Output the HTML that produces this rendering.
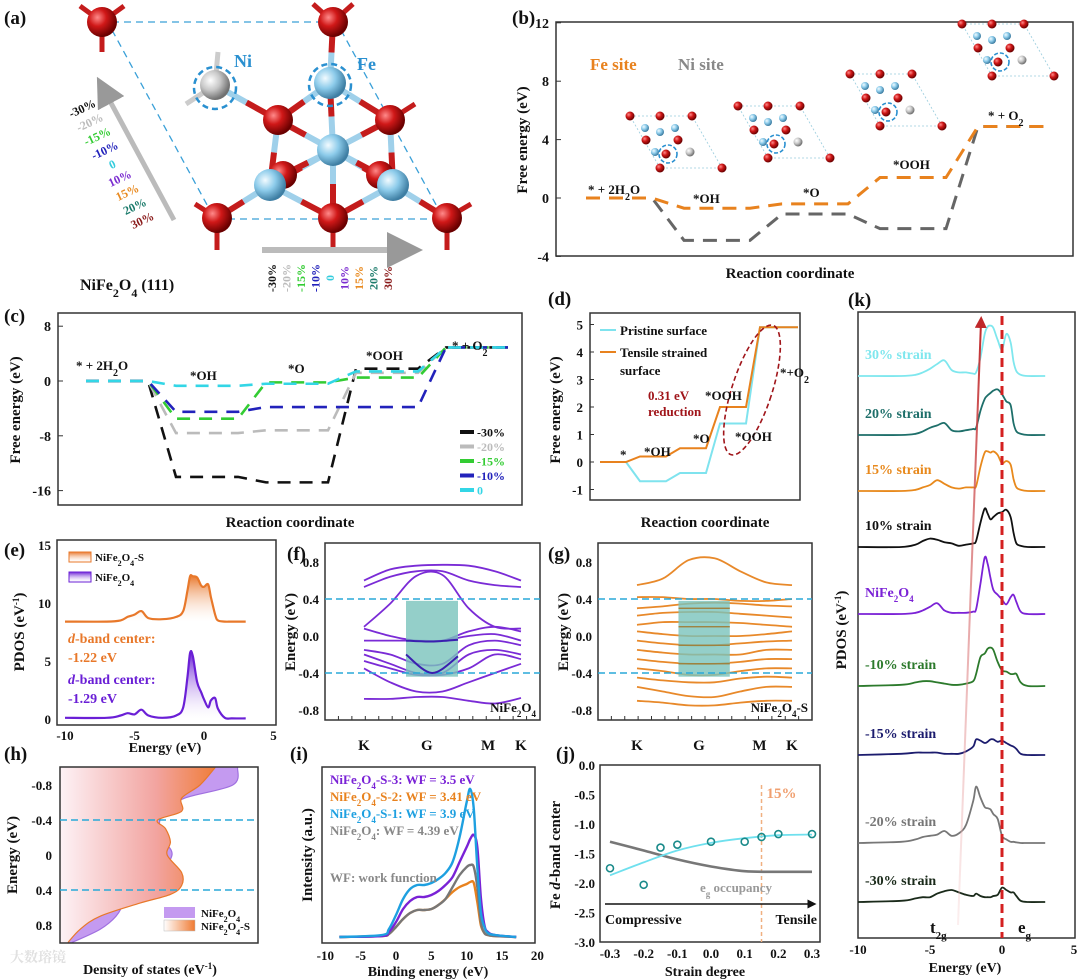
<!DOCTYPE html>
<html><head><meta charset="utf-8"><style>
html,body{margin:0;padding:0;background:#fff}
svg{display:block}
text{font-family:"Liberation Serif","Noto Serif CJK SC",serif;font-weight:bold}
</style></head><body>
<svg id="fig" width="1080" height="980" viewBox="0 0 1080 980" xmlns="http://www.w3.org/2000/svg">
<defs>
<radialGradient id="gRed" cx="35%" cy="35%" r="65%"><stop offset="0" stop-color="#ff8a8a"/><stop offset="0.45" stop-color="#d01818"/><stop offset="1" stop-color="#6a0000"/></radialGradient>
<radialGradient id="gBlue" cx="35%" cy="35%" r="65%"><stop offset="0" stop-color="#f2fbff"/><stop offset="0.5" stop-color="#8ccbea"/><stop offset="1" stop-color="#3e7ea3"/></radialGradient>
<radialGradient id="gGrey" cx="35%" cy="35%" r="65%"><stop offset="0" stop-color="#ffffff"/><stop offset="0.5" stop-color="#c8c8c8"/><stop offset="1" stop-color="#707070"/></radialGradient>
<linearGradient id="gOrV" x1="0" y1="0" x2="0" y2="1"><stop offset="0" stop-color="#e8762a"/><stop offset="1" stop-color="#fff" stop-opacity="0.2"/></linearGradient>
<linearGradient id="gPuV" x1="0" y1="0" x2="0" y2="1"><stop offset="0" stop-color="#6a1fd6"/><stop offset="1" stop-color="#fff" stop-opacity="0.2"/></linearGradient>
<linearGradient id="gOrH" gradientUnits="userSpaceOnUse" x1="60" y1="0" x2="220" y2="0"><stop offset="0" stop-color="#fdf2f6"/><stop offset="0.6" stop-color="#f2a4a0"/><stop offset="1" stop-color="#f07a32"/></linearGradient>
<linearGradient id="gOrL" x1="0" y1="0" x2="1" y2="0"><stop offset="0" stop-color="#fff"/><stop offset="1" stop-color="#f07a32"/></linearGradient>
<linearGradient id="gArrow" x1="0" y1="1" x2="0" y2="0"><stop offset="0" stop-color="#f4c9c9" stop-opacity="0.3"/><stop offset="1" stop-color="#c0282a"/></linearGradient>
<marker id="mGrey" markerWidth="6" markerHeight="6" refX="3" refY="3" orient="auto"><path d="M0,0 L6,3 L0,6 z" fill="#999"/></marker>
<marker id="mBlack" markerWidth="6" markerHeight="6" refX="3" refY="3" orient="auto"><path d="M0,0 L6,3 L0,6 z" fill="#111"/></marker>
<marker id="mRed" markerWidth="6" markerHeight="6" refX="3" refY="3" orient="auto"><path d="M0,0 L6,3 L0,6 z" fill="#c0282a"/></marker>
</defs>
<g id="root"></g>
</svg>
<script>
// ---------------- DATA ----------------
// (b)
const bLevelsFe = [0, -0.7, -0.4, 1.4, 4.9];
const bLevelsNi = [0, -2.9, -1.1, -2.1, 4.9];
const bTicks = [12, 8, 4, 0, -4];
// (c)
const cSeriesNames = ['-30%', '-20%', '-15%', '-10%', '0'];
const cS30 = [0, -14, -14.8, 1.8, 4.9];
const cS20 = [0, -7.6, -7.2, 1.2, 4.9];
const cS15 = [0, -5.5, -0.2, 0.5, 4.9];
const cS10 = [0, -4.5, -3.8, -3.8, 4.9];
const cS0 = [0, -0.7, -0.4, 1.4, 4.9];
const cTicks = [8, 0, -8, -16];
// (d)
const dPristine = [0, -0.7, -0.4, 1.4, 4.9];
const dTensile = [0, 0.2, 0.5, 2.0, 4.9];
const dTicks = [5, 4, 3, 2, 1, 0, -1];
// (e)
const eEnergy = [-10, -7, -6, -5.5, -5, -4.5, -4, -3, -2, -1.5, -1.2, -1, -0.8, -0.5, -0.2, 0, 0.3, 0.5, 0.8, 1, 1.5, 2, 3];
const eStrained = [8.4, 8.4, 8.5, 8.8, 9.0, 9.3, 8.7, 8.6, 8.8, 9.3, 11, 12.3, 12.3, 12.2, 11.5, 11.4, 11.6, 10.5, 9.0, 8.5, 8.4, 8.4, 8.4];
const ePristine = [0.1, 0.1, 0.3, 0.5, 0.4, 0.8, 0.3, 0.1, 0.3, 1, 3.5, 5.7, 5.4, 3.2, 2.3, 1.7, 1.0, 1.6, 1.8, 0.9, 0.1, 0.05, 0.05];
const eTicksY = [15, 10, 5, 0];
const eTicksX = [-10, -5, 0, 5];
// (f) band energies at 7 k samples
const fBands = [
 [0.6,0.72,0.76,0.77,0.76,0.7,0.6],[0.53,0.64,0.7,0.7,0.6,0.55,0.53],[0.1,0.35,0.65,0.66,0.3,0.1,0.08],
 [0.08,0.0,-0.05,-0.05,0.05,0.1,0.05],[-0.05,-0.05,-0.05,-0.05,0.0,0.02,-0.05],[-0.15,-0.2,-0.3,-0.3,-0.1,-0.05,-0.1],
 [-0.2,-0.3,-0.4,-0.4,-0.2,-0.15,-0.2],[-0.27,-0.35,-0.42,-0.42,-0.35,-0.2,-0.25],[-0.35,-0.5,-0.6,-0.6,-0.5,-0.4,-0.3],
 [-0.68,-0.68,-0.66,-0.66,-0.7,-0.73,-0.67]];
const gBands = [
 [0.55,0.62,0.82,0.84,0.7,0.58,0.55],[0.42,0.42,0.4,0.4,0.38,0.38,0.4],[0.3,0.32,0.35,0.36,0.35,0.33,0.32],
 [0.22,0.25,0.26,0.26,0.24,0.22,0.2],[0.12,0.15,0.15,0.15,0.14,0.12,0.1],[0.05,0.02,0.0,0.0,0.0,0.02,0.05],
 [-0.05,-0.08,-0.1,-0.1,-0.08,-0.06,-0.05],[-0.15,-0.18,-0.2,-0.2,-0.2,-0.15,-0.15],[-0.25,-0.28,-0.3,-0.3,-0.28,-0.25,-0.25],
 [-0.35,-0.38,-0.42,-0.42,-0.38,-0.35,-0.35],[-0.45,-0.48,-0.5,-0.5,-0.46,-0.44,-0.45],[-0.55,-0.6,-0.65,-0.66,-0.6,-0.55,-0.55],
 [-0.7,-0.72,-0.75,-0.75,-0.72,-0.7,-0.7]];
const bandTicks = [0.8, 0.4, 0.0, -0.4, -0.8];
const kLabels = ['K', 'G', 'M', 'K'];
// (h)
const hEnergy = [-1, -0.8, -0.65, -0.5, -0.4, -0.3, -0.15, 0, 0.2, 0.35, 0.45, 0.55, 0.7, 0.85, 1.0];
const hPristine = [11.1, 10.8, 7.8, 6.6, 6.25, 6.25, 6.6, 7.0, 6.25, 5.0, 3.6, 3.9, 3.5, 2.5, 0.75];
const hStrained = [9.7, 8.75, 7.6, 7.6, 6.1, 6.6, 6.9, 6.7, 7.6, 7.6, 6.9, 5.0, 2.5, 1.25, 0.5];
const hTicks = [-0.8, -0.4, 0, 0.4, 0.8];
// (i)
const iEnergy = [-8, -2, -1, 0, 1, 2, 3, 4, 5, 6, 7, 8, 9, 10, 10.5, 11, 11.5, 12, 12.5, 13, 14, 17];
const iS1 = [0, 2, 8, 22, 38, 48, 52, 52, 54, 58, 64, 75, 100, 135, 148, 128, 70, 25, 10, 4, 2, 0];
const iS3 = [0, 1, 5, 15, 28, 36, 40, 40, 42, 46, 52, 60, 75, 90, 98, 102, 90, 40, 12, 5, 2, 0];
const iS2 = [0, 1, 3, 10, 18, 24, 27, 27, 28, 32, 38, 45, 50, 53, 55, 54, 35, 12, 4, 2, 1, 0];
const iNi = [0, 1, 3, 10, 18, 24, 27, 27, 28, 32, 38, 50, 62, 70, 72, 70, 50, 15, 4, 2, 1, 0];
const iTicks = [-10, -5, 0, 5, 10, 15, 20];
// (j)
const jStrain = [-0.3, -0.2, -0.15, -0.1, 0, 0.1, 0.15, 0.2, 0.3];
const jCenter = [-1.75, -2.03, -1.4, -1.35, -1.3, -1.3, -1.22, -1.17, -1.17];
const jFitStrain = [-0.3, -0.2, -0.1, 0, 0.1, 0.2, 0.3];
const jFit = [-1.87, -1.65, -1.45, -1.32, -1.24, -1.19, -1.18];
const jEg = [-1.3, -1.45, -1.6, -1.72, -1.8, -1.81, -1.81];
const jTicksY = [0.0, -0.5, -1.0, -1.5, -2.0, -2.5, -3.0];
const jTicksX = [-0.3, -0.2, -0.1, 0.0, 0.1, 0.2, 0.3];
// (k)
const kEnergy = [-10,-7,-6,-5.5,-5,-4.5,-4,-3.5,-3,-2.5,-2,-1.8,-1.5,-1.2,-1,-0.8,-0.6,-0.3,0,0.3,0.6,0.8,1,1.3,1.8,3];
const kNames = ['30% strain','20% strain','15% strain','10% strain','NiFe2O4','-10% strain','-15% strain','-20% strain','-30% strain'];
const k30 = [0,0,0.1,0.3,0.6,1.0,1.3,0.5,0.3,0.3,0.2,0.3,1.5,3.5,4.1,4.2,4.0,3.0,2.2,3.5,2.8,1.2,0.4,0.1,0,0];
const k20 = [0,0,0.1,0.3,0.6,0.8,1.0,0.4,0.3,0.4,0.5,0.6,2.0,3.0,3.3,3.5,3.7,3.8,3.4,2.8,2.5,1.0,0.3,0.1,0,0];
const k15 = [0,0,0.1,0.3,0.5,0.9,0.6,0.3,0.2,0.3,0.3,0.4,2.0,3.2,3.3,3.2,3.3,3.0,2.3,2.5,2.2,1.0,0.3,0.1,0,0];
const k10 = [0,0,0.2,0.5,0.7,0.6,0.4,0.3,0.1,0.2,0.3,0.5,2.0,3.2,2.8,2.3,2.5,2.8,2.9,3.1,2.5,1.2,0.3,0.1,0,0];
const kNi = [0,0,0.1,0.3,0.6,0.9,0.3,0.1,0.1,0.1,0.2,0.4,2.5,4.7,4.2,3.0,2.0,1.6,1.2,0.8,1.4,1.6,1.0,0.2,0,0];
const km10 = [0,0.1,0.3,0.4,0.4,0.3,0.2,0.1,0.1,0.2,0.4,1.0,2.4,2.7,3.1,3.2,3.0,2.0,1.3,1.2,1.0,1.0,1.0,0.3,0,0];
const km15 = [0,0.1,0.2,0.2,0.2,0.2,0.1,0.1,0.1,0.3,0.7,1.3,1.2,1.0,1.1,1.3,1.3,1.1,1.2,1.0,0.8,0.7,0.5,0.1,0,0];
const km20 = [0,0.1,0.3,0.5,0.6,0.7,1.0,0.6,0.8,1.5,3.5,4.7,3.8,3.0,2.9,2.8,2.4,2.0,0.6,0.3,0.1,0.1,0.05,0,0,0];
const km30 = [0,0.1,0.3,0.4,0.4,0.7,0.9,1.0,0.8,0.6,0.5,0.7,0.5,0.4,0.4,0.4,0.5,0.6,1.2,1.0,0.8,0.8,0.5,0.1,0,0];
const kTicks = [-10, -5, 0, 5];

// ---------------- HELPERS ----------------
const NS = 'http://www.w3.org/2000/svg';
const root = document.getElementById('root');
function mk(parent, tag, attrs, text) {
  const e = document.createElementNS(NS, tag);
  for (const k in attrs) e.setAttribute(k, attrs[k]);
  if (text != null) e.textContent = text;
  parent.appendChild(e);
  return e;
}
function grp(name) {
  const g = mk(root, 'g', {});
  
  
  return g;
}
function smooth(pts) {
  let d = 'M' + pts[0][0].toFixed(1) + ',' + pts[0][1].toFixed(1);
  for (let i = 0; i < pts.length - 1; i++) {
    const p0 = pts[i - 1] || pts[i], p1 = pts[i], p2 = pts[i + 1], p3 = pts[i + 2] || p2;
    const c1x = p1[0] + (p2[0] - p0[0]) / 6, c1y = p1[1] + (p2[1] - p0[1]) / 6;
    const c2x = p2[0] - (p3[0] - p1[0]) / 6, c2y = p2[1] - (p3[1] - p1[1]) / 6;
    d += ' C' + c1x.toFixed(1) + ',' + c1y.toFixed(1) + ' ' + c2x.toFixed(1) + ',' + c2y.toFixed(1) + ' ' + p2[0].toFixed(1) + ',' + p2[1].toFixed(1);
  }
  return d;
}
function txt(parent, x, y, s, size, fill, anchor, name, extra) {
  const a = {x: x, y: y, 'font-size': size, fill: fill || '#111', 'text-anchor': anchor || 'start'};
  if (extra) for (const k in extra) a[k] = extra[k];
  const t = mk(parent, 'text', a);
  t.innerHTML = s;
  
  
  return t;
}
function frame(parent, x, y, w, h, name) {
  const r = mk(parent, 'rect', {x: x, y: y, width: w, height: h, fill: 'none', stroke: '#333', 'stroke-width': 1.5});
  
  
  return r;
}
function stepPath(levels, xf, w, yf) {
  let d = '';
  levels.forEach((v, i) => {
    const x0 = xf(i), y = yf(v);
    d += (i === 0 ? 'M' : ' L') + x0 + ',' + y + ' H' + (x0 + w);
  });
  return d;
}
function sphere(parent, x, y, r, kind) {
  const c = mk(parent, 'circle', {cx: x, cy: y, r: r, fill: kind === 'r' ? 'url(#gRed)' : kind === 'b' ? 'url(#gBlue)' : 'url(#gGrey)'});
  
  
  return c;
}

// ---------------- PANEL A ----------------
(function () {
  const g = grp('panel-a-structure');
  txt(g, 4, 24, '(a)', 19, '#111', 'start', 'panel-label-a');
  const cell = mk(g, 'path', {d: 'M112,22 H333 M112,30 L212,214 M216,219 H447 M341,30 L440,212', fill: 'none', stroke: '#3aa0d8', 'stroke-width': 1.3, 'stroke-dasharray': '7 5'});
  
  const stubs = [[102,22,80,6],[102,22,124,6],[102,22,102,52],[333,22,313,4],[333,22,353,4],[217,218,195,204],[217,218,217,250],[447,218,471,204],[447,218,447,250],[333,218,333,250],[390,120,415,104],[215,85,218,52],[215,85,186,104]];
  stubs.forEach(b => {
    const l = mk(g, 'line', {x1: b[0], y1: b[1], x2: b[2], y2: b[3], stroke: b[0] === 215 ? '#ccc' : '#c41c1c', 'stroke-width': 5});
    
  });
  const bonds = [[330,83,333,22],[330,83,278,120],[330,83,390,120],[215,85,278,120],[333,150,278,120],[333,150,390,120],[333,150,330,83],[333,150,270,185],[333,150,393,185],[333,150,333,218],[333,150,283,175],[333,150,380,175],[278,120,270,185],[390,120,393,185],[270,185,217,218],[270,185,333,218],[270,185,283,175],[393,185,333,218],[393,185,447,218],[393,185,380,175]];
  bonds.forEach(b => {
    const mx = (b[0] + b[2]) / 2, my = (b[1] + b[3]) / 2;
    const l1 = mk(g, 'line', {x1: b[0], y1: b[1], x2: mx, y2: my, stroke: '#9fd0ea', 'stroke-width': 6});
    
    const l2 = mk(g, 'line', {x1: mx, y1: my, x2: b[2], y2: b[3], stroke: '#c41c1c', 'stroke-width': 6});
    
  });
  [[283,175],[380,175]].forEach(p => sphere(g, p[0], p[1], 14, 'r'));
  [[102,22],[333,22],[278,120],[390,120],[217,218],[333,218],[447,218]].forEach(p => sphere(g, p[0], p[1], 15, 'r'));
  [[330,83],[333,150],[270,185],[393,185]].forEach(p => sphere(g, p[0], p[1], 16, 'b'));
  sphere(g, 215, 85, 15, 'g');
  const c1 = mk(g, 'circle', {cx: 215, cy: 88, r: 21, fill: 'none', stroke: '#2a90d0', 'stroke-width': 2.5, 'stroke-dasharray': '6 4'});
  
  const c2 = mk(g, 'circle', {cx: 330, cy: 85, r: 21, fill: 'none', stroke: '#2a90d0', 'stroke-width': 2.5, 'stroke-dasharray': '6 4'});
  
  txt(g, 234, 67, 'Ni', 18, '#2a90d0', 'start', 'ni-label');
  txt(g, 357, 70, 'Fe', 18, '#2a90d0', 'start', 'fe-label');
  const a1 = mk(g, 'line', {x1: 174, y1: 220, x2: 104, y2: 90, stroke: '#bbb', 'stroke-width': 5, 'marker-end': 'url(#mGrey)'});
  
  const a2 = mk(g, 'line', {x1: 262, y1: 250, x2: 405, y2: 250, stroke: '#bbb', 'stroke-width': 6, 'marker-end': 'url(#mGrey)'});
  
  const strains = ['-30%','-20%','-15%','-10%','0','10%','15%','20%','30%'];
  const scol = ['#111','#bbb','#3c3','#22b','#3cd','#7a2bd0','#e88a20','#1a7a6a','#8a1a1a'];
  strains.forEach((s, i) => {
    const lx = 84 + i * 7.5, ly = 112 + i * 14;
    txt(g, 0, 0, s, 12, scol[i], 'middle', 'strain-label-left', {transform: 'translate(' + lx + ',' + ly + ') rotate(-25)'});
    txt(g, 0, 0, s, 12, scol[i], 'middle', 'strain-label-bottom', {transform: 'translate(' + (276 + i * 14.5) + ',278) rotate(-90)'});
  });
  txt(g, 80, 290, 'NiFe<tspan baseline-shift="sub" font-size="12">2</tspan>O<tspan baseline-shift="sub" font-size="12">4</tspan> (111)', 16, '#111', 'start', 'structure-title');
})();

// ---------------- PANEL B ----------------
(function () {
  const g = grp('panel-b-free-energy');
  const X0 = 556, X1 = 1073, Y0 = 22, Y1 = 256;
  const yB = v => 198 - 14.6 * v;
  const xB = i => 586 + i * 98;
  txt(g, 512, 24, '(b)', 19, '#111', 'start', 'panel-label-b');
  frame(g, X0, Y0, X1 - X0, Y1 - Y0, 'plot-frame-b');
  bTicks.forEach(t => {
    txt(g, 549, yB(t) + 5, t, 14, '#111', 'end', 'y-tick-label');
    mk(g, 'line', {x1: X0, x2: X0 + 5, y1: yB(t), y2: yB(t), stroke: '#333'});
  });
  txt(g, 0, 0, 'Free energy (eV)', 15, '#111', 'middle', 'y-axis-title', {transform: 'translate(527,140) rotate(-90)'});
  txt(g, 790, 278, 'Reaction coordinate', 15, '#111', 'middle', 'x-axis-title');
  const ni = mk(g, 'path', {d: stepPath(bLevelsNi, xB, 66, yB), fill: 'none', stroke: '#666', 'stroke-width': 3, 'stroke-dasharray': '14 9'});
  
  const fe = mk(g, 'path', {d: stepPath(bLevelsFe, xB, 66, yB), fill: 'none', stroke: '#e8821e', 'stroke-width': 3, 'stroke-dasharray': '14 9'});
  
  txt(g, 590, 70, 'Fe site', 17, '#e8821e', 'start', 'legend-fe-site');
  txt(g, 678, 70, 'Ni site', 17, '#888', 'start', 'legend-ni-site');
  txt(g, 588, 194, '* + 2H<tspan baseline-shift="sub" font-size="10">2</tspan>O', 13, '#111', 'start', 'label-h2o');
  txt(g, 693, 203, '*OH', 13, '#111', 'start', 'label-oh');
  txt(g, 803, 197, '*O', 13, '#111', 'start', 'label-o');
  txt(g, 893, 169, '*OOH', 13, '#111', 'start', 'label-ooh');
  txt(g, 988, 120, '* + O<tspan baseline-shift="sub" font-size="10">2</tspan>', 13, '#111', 'start', 'label-o2');
  [[660,150],[768,140],[880,108],[992,58]].forEach((c, k) => {
    const tg = mk(g, 'g', {});
    
    mk(tg, 'path', {d: 'M' + (c[0]-30) + ',' + (c[1]-34) + ' h62 l30 52 h-62 z', fill: 'none', stroke: '#9cd', 'stroke-width': 0.8, 'stroke-dasharray': '2 2'});
    [[-30,-34],[0,-34],[32,-34],[-14,-10],[18,-10],[0,18],[62,18]].forEach(p => sphere(tg, c[0]+p[0], c[1]+p[1], 4.5, 'r'));
    [[-15,-22],[15,-22],[0,-18],[-5,2]].forEach(p => sphere(tg, c[0]+p[0], c[1]+p[1], 4, 'b'));
    sphere(tg, c[0]+30, c[1]+2, 4.5, 'g');
    sphere(tg, c[0]+6, c[1]+4, 4.5, 'r');
    mk(tg, 'circle', {cx: c[0]+8, cy: c[1]+4, r: 9, fill: 'none', stroke: '#2a90d0', 'stroke-width': 1.6, 'stroke-dasharray': '4 2'});
  });
})();

// ---------------- PANEL C ----------------
(function () {
  const g = grp('panel-c-strain-free-energy');
  const X0 = 58, X1 = 522, Y0 = 313, Y1 = 505;
  const yC = v => 381 - 6.85 * v;
  const xC = i => 86 + i * 90;
  txt(g, 4, 322, '(c)', 19, '#111', 'start', 'panel-label-c');
  frame(g, X0, Y0, X1 - X0, Y1 - Y0, 'plot-frame-c');
  cTicks.forEach(t => {
    txt(g, 51, yC(t) + 5, t, 14, '#111', 'end', 'y-tick-label');
    mk(g, 'line', {x1: X0, x2: X0 + 5, y1: yC(t), y2: yC(t), stroke: '#333'});
  });
  txt(g, 0, 0, 'Free energy (eV)', 15, '#111', 'middle', 'y-axis-title', {transform: 'translate(20,410) rotate(-90)'});
  txt(g, 290, 527, 'Reaction coordinate', 15, '#111', 'middle', 'x-axis-title');
  const series = [cS30, cS20, cS15, cS10, cS0];
  const cols = ['#111', '#bbb', '#3c3', '#22b', '#33d6e6'];
  series.forEach((s, k) => {
    const p = mk(g, 'path', {d: stepPath(s, xC, 62, yC), fill: 'none', stroke: cols[k], 'stroke-width': 2.6, 'stroke-dasharray': '13 9'});
    
    const ly = 432 + k * 14.5;
    const l = mk(g, 'line', {x1: 460, x2: 474, y1: ly, y2: ly, stroke: cols[k], 'stroke-width': 4});
    
    txt(g, 477, ly + 4.5, cSeriesNames[k], 12, cols[k], 'start', 'legend-entry');
  });
  txt(g, 76, 370, '* + 2H<tspan baseline-shift="sub" font-size="10">2</tspan>O', 13, '#111', 'start', 'label-h2o');
  txt(g, 190, 380, '*OH', 13, '#111', 'start', 'label-oh');
  txt(g, 288, 373, '*O', 13, '#111', 'start', 'label-o');
  txt(g, 366, 360, '*OOH', 13, '#111', 'start', 'label-ooh');
  txt(g, 452, 350, '* + O<tspan baseline-shift="sub" font-size="10">2</tspan>', 13, '#111', 'start', 'label-o2');
})();

// ---------------- PANEL D ----------------
(function () {
  const g = grp('panel-d-pristine-vs-tensile');
  const X0 = 590, X1 = 800, Y0 = 313, Y1 = 500;
  const yD = v => 462 - 27.5 * v;
  const xD = i => 600 + i * 40;
  txt(g, 548, 305, '(d)', 19, '#111', 'start', 'panel-label-d');
  frame(g, X0, Y0, X1 - X0, Y1 - Y0, 'plot-frame-d');
  dTicks.forEach(t => {
    txt(g, 583, yD(t) + 5, t, 13, '#111', 'end', 'y-tick-label');
    mk(g, 'line', {x1: X0, x2: X0 + 4, y1: yD(t), y2: yD(t), stroke: '#333'});
  });
  txt(g, 0, 0, 'Free energy (eV)', 15, '#111', 'middle', 'y-axis-title', {transform: 'translate(560,410) rotate(-90)'});
  txt(g, 705, 527, 'Reaction coordinate', 15, '#111', 'middle', 'x-axis-title');
  function solidSteps(levels) {
    let d = '';
    levels.forEach((v, i) => { const x = xD(i); d += (i ? ' L' : 'M') + x + ',' + yD(v) + ' H' + (x + (i === 4 ? 38 : 26)); });
    return d;
  }
  const p1 = mk(g, 'path', {d: solidSteps(dPristine), fill: 'none', stroke: '#7fe3ee', 'stroke-width': 2});
  
  const p2 = mk(g, 'path', {d: solidSteps(dTensile), fill: 'none', stroke: '#e8821e', 'stroke-width': 2});
  
  mk(g, 'line', {x1: 600, x2: 616, y1: 330, y2: 330, stroke: '#7fe3ee', 'stroke-width': 2});
  txt(g, 620, 335, 'Pristine surface', 13, '#111', 'start', 'legend-pristine');
  mk(g, 'line', {x1: 600, x2: 616, y1: 352, y2: 352, stroke: '#e8821e', 'stroke-width': 2});
  txt(g, 620, 357, 'Tensile strained', 13, '#111', 'start', 'legend-tensile');
  txt(g, 620, 375, 'surface', 13, '#111', 'start', 'legend-tensile-2');
  const el = mk(g, 'ellipse', {cx: 752, cy: 390, rx: 20, ry: 68, fill: 'none', stroke: '#a0151a', 'stroke-width': 1.6, 'stroke-dasharray': '5 3', transform: 'rotate(18 752 390)'});
  
  txt(g, 648, 400, '0.31 eV', 13, '#a0151a', 'start', 'reduction-annotation');
  txt(g, 648, 416, 'reduction', 13, '#a0151a', 'start', 'reduction-annotation-2');
  txt(g, 620, 459, '*', 13, '#111', 'start', 'label-star');
  txt(g, 644, 456, '*OH', 13, '#111', 'start', 'label-oh');
  txt(g, 693, 443, '*O', 13, '#111', 'start', 'label-o');
  txt(g, 705, 400, '*OOH', 13, '#111', 'start', 'label-ooh-tensile');
  txt(g, 735, 441, '*OOH', 13, '#111', 'start', 'label-ooh-pristine');
  txt(g, 780, 377, '*+O<tspan baseline-shift="sub" font-size="10">2</tspan>', 13, '#111', 'start', 'label-o2');
})();

// ---------------- PANEL E ----------------
(function () {
  const g = grp('panel-e-pdos');
  const X0 = 57, X1 = 276, Y0 = 540, Y1 = 725;
  const xE = v => 204 + 13.9 * v;
  const yE = v => 719 - 11.6 * v;
  txt(g, 4, 556, '(e)', 19, '#111', 'start', 'panel-label-e');
  frame(g, X0, Y0, X1 - X0, Y1 - Y0, 'plot-frame-e');
  eTicksY.forEach(t => txt(g, 51, yE(t) + 5, t, 13, '#111', 'end', 'y-tick-label'));
  eTicksX.forEach(t => txt(g, xE(t), 740, t, 13, '#111', 'middle', 'x-tick-label'));
  txt(g, 0, 0, 'PDOS (eV<tspan baseline-shift="super" font-size="9">-1</tspan>)', 15, '#111', 'middle', 'y-axis-title', {transform: 'translate(24,632) rotate(-90)'});
  txt(g, 165, 752, 'Energy (eV)', 14, '#111', 'middle', 'x-axis-title');
  function area(vals, base, fill, stroke, name) {
    const pts = eEnergy.map((e, i) => [xE(e), yE(vals[i])]);
    const d = smooth(pts);
    const a = mk(g, 'path', {d: d + ' L' + pts[pts.length-1][0] + ',' + yE(base) + ' L' + pts[0][0] + ',' + yE(base) + ' Z', fill: fill, stroke: 'none'});
    
    const l = mk(g, 'path', {d: d, fill: 'none', stroke: stroke, 'stroke-width': 2.2});
    
  }
  area(eStrained, 8.4, 'url(#gOrV)', '#e8782a', 'strained-pdos');
  area(ePristine, 0.05, 'url(#gPuV)', '#6a1fd6', 'pristine-pdos');
  mk(g, 'rect', {x: 69, y: 552, width: 22, height: 10, fill: 'url(#gOrV)', stroke: '#e8782a'});
  txt(g, 95, 561, 'NiFe<tspan baseline-shift="sub" font-size="8">2</tspan>O<tspan baseline-shift="sub" font-size="8">4</tspan>-S', 11, '#111', 'start', 'legend-strained');
  mk(g, 'rect', {x: 69, y: 572, width: 22, height: 10, fill: 'url(#gPuV)', stroke: '#6a1fd6'});
  txt(g, 95, 581, 'NiFe<tspan baseline-shift="sub" font-size="8">2</tspan>O<tspan baseline-shift="sub" font-size="8">4</tspan>', 11, '#111', 'start', 'legend-pristine');
  txt(g, 68, 643, '<tspan font-style="italic">d</tspan>-band center:', 14, '#e8782a', 'start', 'd-band-center-strained');
  txt(g, 68, 662, '-1.22 eV', 14, '#e8782a', 'start', 'd-band-value-strained');
  txt(g, 68, 684, '<tspan font-style="italic">d</tspan>-band center:', 14, '#6a1fd6', 'start', 'd-band-center-pristine');
  txt(g, 68, 703, '-1.29 eV', 14, '#6a1fd6', 'start', 'd-band-value-pristine');
})();

// ---------------- PANELS F, G ----------------
function bandPanel(name, label, lx, X0, X1, bx0, bx1, bands, col, tag) {
  const g = grp(name);
  const Y0 = 543, Y1 = 720;
  const yF = v => 636 - 92.5 * v;
  const xF = i => bx0 + i * (bx1 - bx0) / 6;
  txt(g, lx, 560, label, 19, '#111', 'start', 'panel-label');
  frame(g, X0, Y0, X1 - X0, Y1 - Y0, 'plot-frame');
  bandTicks.forEach(t => txt(g, X0 - 6, yF(t) + 5, t.toFixed(1), 13, '#111', 'end', 'y-tick-label'));
  for (let i = 0; i <= 16; i++) mk(g, 'line', {x1: X0 + i * (X1 - X0) / 16, x2: X0 + i * (X1 - X0) / 16, y1: Y1, y2: Y1 - 4, stroke: '#333'});
  txt(g, 0, 0, 'Energy (eV)', 15, '#111', 'middle', 'y-axis-title', {transform: 'translate(' + (X0 - 30) + ',632) rotate(-90)'});
  bands.forEach(b => {
    const p = mk(g, 'path', {d: smooth(b.map((v, i) => [xF(i), yF(v)])), fill: 'none', stroke: col, 'stroke-width': 1.8});
    
  });
  const bxA = bx0 + 42 * (bx1 - bx0) / 157, bxB = bx0 + 94 * (bx1 - bx0) / 157;
  const box = mk(g, 'rect', {x: bxA, y: yF(0.38), width: bxB - bxA, height: yF(-0.44) - yF(0.38), fill: '#79c3bc', opacity: 0.8});
  
  [0.4, -0.4].forEach(v => {
    const l = mk(g, 'line', {x1: X0, x2: X1, y1: yF(v), y2: yF(v), stroke: '#29a9d8', 'stroke-width': 1.6, 'stroke-dasharray': '7 4'});
    
  });
  txt(g, X1 - 4, 712, tag, 13, '#111', 'end', 'structure-tag');
  const kx = [bx0, bx0 + 0.4 * (bx1 - bx0), bx0 + 0.79 * (bx1 - bx0), bx1];
  kLabels.forEach((k, i) => txt(g, kx[i], 750, k, 15, '#111', 'middle', 'k-point-label'));
  return {g: g, xF: xF, yF: yF, bxA: bxA, bxB: bxB};
}
(function () {
  const f = bandPanel('panel-f-band-structure', '(f)', 287, 325, 540, 364, 521, fBands, '#7a2bd6', 'NiFe<tspan baseline-shift="sub" font-size="9">2</tspan>O<tspan baseline-shift="sub" font-size="9">4</tspan>');
  [[-0.05,-0.06,-0.04],[-0.2,-0.4,-0.22]].forEach(b => mk(f.g, 'path', {d: smooth([[f.bxA, f.yF(b[0])], [(f.bxA + f.bxB) / 2, f.yF(b[1])], [f.bxB, f.yF(b[2])]]), fill: 'none', stroke: '#3a1fb0', 'stroke-width': 2}));
  const gp = bandPanel('panel-g-band-structure', '(g)', 548, 598, 812, 637, 792, gBands, '#e8892a', 'NiFe<tspan baseline-shift="sub" font-size="9">2</tspan>O<tspan baseline-shift="sub" font-size="9">4</tspan>-S');
  [0.3, 0.1, -0.1, -0.3].forEach(v => mk(gp.g, 'line', {x1: gp.bxA, x2: gp.bxB, y1: gp.yF(v), y2: gp.yF(v), stroke: '#a07a30', 'stroke-width': 1.2}));
})();

// ---------------- PANEL H ----------------
(function () {
  const g = grp('panel-h-dos');
  const X0 = 60, X1 = 258, Y0 = 767, Y1 = 943;
  const yH = v => 855 + 87.5 * v;
  const xH = v => 60 + 16 * v;
  txt(g, 4, 760, '(h)', 19, '#111', 'start', 'panel-label-h');
  mk(g, 'clipPath', {id: 'clipH'}).appendChild(document.createElementNS(NS, 'rect'));
  const cr = document.querySelector('#clipH rect');
  cr.setAttribute('x', X0); cr.setAttribute('y', Y0); cr.setAttribute('width', X1 - X0); cr.setAttribute('height', Y1 - Y0);
  const inner = mk(g, 'g', {'clip-path': 'url(#clipH)'});
  function area(vals, fill, stroke, name) {
    const pts = hEnergy.map((e, i) => [xH(vals[i]), yH(e)]);
    const d = smooth(pts);
    const a = mk(inner, 'path', {d: d + ' L' + X0 + ',' + pts[pts.length-1][1] + ' L' + X0 + ',' + pts[0][1] + ' Z', fill: fill});
    
    const l = mk(inner, 'path', {d: d, fill: 'none', stroke: stroke, 'stroke-width': 1.2});
    
  }
  area(hPristine, '#c49af0', '#a070e0', 'pristine-dos');
  area(hStrained, 'url(#gOrH)', '#e8782a', 'strained-dos');
  frame(g, X0, Y0, X1 - X0, Y1 - Y0, 'plot-frame-h');
  hTicks.forEach(t => txt(g, 52, yH(t) + 5, t, 13, '#111', 'end', 'y-tick-label'));
  [-0.4, 0.4].forEach(v => {
    const l = mk(g, 'line', {x1: X0, x2: X1, y1: yH(v), y2: yH(v), stroke: '#29a9d8', 'stroke-width': 1.6, 'stroke-dasharray': '7 4'});
    
  });
  txt(g, 0, 0, 'Energy (eV)', 15, '#111', 'middle', 'y-axis-title', {transform: 'translate(17,855) rotate(-90)'});
  txt(g, 150, 974, 'Density of states (eV<tspan baseline-shift="super" font-size="9">-1</tspan>)', 14, '#111', 'middle', 'x-axis-title');
  mk(g, 'rect', {x: 164, y: 907, width: 31, height: 11, fill: '#c49af0'});
  txt(g, 201, 917, 'NiFe<tspan baseline-shift="sub" font-size="8">2</tspan>O<tspan baseline-shift="sub" font-size="8">4</tspan>', 11, '#111', 'start', 'legend-pristine');
  mk(g, 'rect', {x: 164, y: 920, width: 31, height: 11, fill: 'url(#gOrL)', stroke: '#bbb', 'stroke-width': 0.5});
  txt(g, 201, 930, 'NiFe<tspan baseline-shift="sub" font-size="8">2</tspan>O<tspan baseline-shift="sub" font-size="8">4</tspan>-S', 11, '#111', 'start', 'legend-strained');
  txt(g, 10, 962, '大数瑢镜', 14, '#ccc', 'start', 'watermark', {opacity: 0.6});
})();

// ---------------- PANEL I ----------------
(function () {
  const g = grp('panel-i-ups');
  const X0 = 322, X1 = 535, Y0 = 767, Y1 = 943;
  const xI = v => 396 + 7.07 * v;
  const yI = v => 937 - v;
  txt(g, 290, 760, '(i)', 19, '#111', 'start', 'panel-label-i');
  frame(g, X0, Y0, X1 - X0, Y1 - Y0, 'plot-frame-i');
  iTicks.forEach(t => txt(g, xI(t), 960, t, 13, '#111', 'middle', 'x-tick-label'));
  txt(g, 428, 976, 'Binding energy (eV)', 14, '#111', 'middle', 'x-axis-title');
  txt(g, 0, 0, 'Intensity (a.u.)', 15, '#111', 'middle', 'y-axis-title', {transform: 'translate(312,855) rotate(-90)'});
  [[iS2, '#e8821e', 'series-s2'], [iNi, '#777', 'series-pristine'], [iS3, '#7a22d6', 'series-s3'], [iS1, '#1ea0e0', 'series-s1']].forEach(s => {
    const p = mk(g, 'path', {d: smooth(iEnergy.map((e, i) => [xI(e), yI(s[0][i])])), fill: 'none', stroke: s[1], 'stroke-width': 2.4});
    
  });
  const sub = '<tspan baseline-shift="sub" font-size="9">';
  txt(g, 330, 784, 'NiFe' + sub + '2</tspan>O' + sub + '4</tspan>-S-3: WF = 3.5 eV', 13, '#7a22d6', 'start', 'legend-s3');
  txt(g, 330, 801, 'NiFe' + sub + '2</tspan>O' + sub + '4</tspan>-S-2: WF = 3.41 eV', 13, '#e8821e', 'start', 'legend-s2');
  txt(g, 330, 818, 'NiFe' + sub + '2</tspan>O' + sub + '4</tspan>-S-1: WF = 3.9 eV', 13, '#1ea0e0', 'start', 'legend-s1');
  txt(g, 330, 835, 'NiFe' + sub + '2</tspan>O' + sub + '4</tspan>: WF = 4.39 eV', 13, '#888', 'start', 'legend-pristine');
  txt(g, 330, 882, 'WF: work function', 13, '#888', 'start', 'note-work-function');
})();

// ---------------- PANEL J ----------------
(function () {
  const g = grp('panel-j-d-band-center');
  const X0 = 600, X1 = 820, Y0 = 765, Y1 = 942;
  const xJ = s => 610 + 336.7 * (s + 0.3);
  const yJ = v => 765 - 59 * v;
  txt(g, 556, 760, '(j)', 19, '#111', 'start', 'panel-label-j');
  frame(g, X0, Y0, X1 - X0, Y1 - Y0, 'plot-frame-j');
  jTicksY.forEach(t => txt(g, 595, yJ(t) + 5, t.toFixed(1), 13, '#111', 'end', 'y-tick-label'));
  jTicksX.forEach(t => txt(g, xJ(t), 958, t.toFixed(1), 13, '#111', 'middle', 'x-tick-label'));
  txt(g, 705, 976, 'Strain degree', 14, '#111', 'middle', 'x-axis-title');
  txt(g, 0, 0, 'Fe <tspan font-style="italic">d</tspan>-band center', 15, '#111', 'middle', 'y-axis-title', {transform: 'translate(560,855) rotate(-90)'});
  const v15 = mk(g, 'line', {x1: xJ(0.15), x2: xJ(0.15), y1: 785, y2: 942, stroke: '#f0b080', 'stroke-width': 1.5, 'stroke-dasharray': '4 3'});
  
  txt(g, xJ(0.15) + 5, 798, '15%', 15, '#f0a070', 'start', 'strain-15-label');
  const eg = mk(g, 'path', {d: smooth(jFitStrain.map((s, i) => [xJ(s), yJ(jEg[i])])), fill: 'none', stroke: '#777', 'stroke-width': 2.6});
  
  const fit = mk(g, 'path', {d: smooth(jFitStrain.map((s, i) => [xJ(s), yJ(jFit[i])])), fill: 'none', stroke: '#6fe0ee', 'stroke-width': 1.8});
  
  jStrain.forEach((s, i) => {
    const c = mk(g, 'circle', {cx: xJ(s), cy: yJ(jCenter[i]), r: 3.5, fill: 'none', stroke: '#1a8a8a', 'stroke-width': 1.6});
    
  });
  txt(g, 700, 892, 'e<tspan baseline-shift="sub" font-size="9">g</tspan> occupancy', 13, '#999', 'start', 'eg-occupancy-label');
  const ar = mk(g, 'line', {x1: 605, x2: 812, y1: 904, y2: 904, stroke: '#111', 'stroke-width': 1.5, 'marker-end': 'url(#mBlack)'});
  
  txt(g, 605, 924, 'Compressive', 14, '#111', 'start', 'compressive-label');
  txt(g, 817, 924, 'Tensile', 14, '#111', 'end', 'tensile-label');
})();

// ---------------- PANEL K ----------------
(function () {
  const g = grp('panel-k-strain-pdos');
  const X0 = 858, X1 = 1075, Y0 = 312, Y1 = 938;
  const xK = e => 1002 + 14.4 * e;
  const baselines = [376, 435, 491, 547, 614, 686, 755, 843, 902];
  const series = [k30, k20, k15, k10, kNi, km10, km15, km20, km30];
  const cols = ['#7fe7ee', '#1e6f6a', '#e8891c', '#111', '#7b22d6', '#2c7a2c', '#1c1c6e', '#777', '#1a2a1a'];
  txt(g, 848, 306, '(k)', 19, '#111', 'start', 'panel-label-k');
  frame(g, X0, Y0, X1 - X0, Y1 - Y0, 'plot-frame-k');
  kTicks.forEach(t => txt(g, xK(t), 954, t, 13, '#111', 'middle', 'x-tick-label'));
  txt(g, 965, 972, 'Energy (eV)', 14, '#111', 'middle', 'x-axis-title');
  txt(g, 0, 0, 'PDOS (eV<tspan baseline-shift="super" font-size="9">-1</tspan>)', 15, '#111', 'middle', 'y-axis-title', {transform: 'translate(846,630) rotate(-90)'});
  series.forEach((s, k) => {
    const b = baselines[k];
    const p = mk(g, 'path', {d: smooth(kEnergy.map((e, i) => [xK(e), b - 12 * s[i]])), fill: 'none', stroke: cols[k], 'stroke-width': 1.8});
    
    const lab = kNames[k] === 'NiFe2O4' ? 'NiFe<tspan baseline-shift="sub" font-size="9">2</tspan>O<tspan baseline-shift="sub" font-size="9">4</tspan>' : kNames[k];
    txt(g, 865, b - 17, lab, 14, cols[k], 'start', 'curve-label');
  });
  const ar = mk(g, 'line', {x1: 958, y1: 925, x2: 981, y2: 322, stroke: 'url(#gArrow)', 'stroke-width': 2, 'marker-end': 'url(#mRed)'});
  
  const ref = mk(g, 'line', {x1: 1002, x2: 1002, y1: 316, y2: 938, stroke: '#d42020', 'stroke-width': 3, 'stroke-dasharray': '9 5'});
  
  txt(g, 930, 933, 't<tspan baseline-shift="sub" font-size="11">2g</tspan>', 17, '#111', 'start', 't2g-label');
  txt(g, 1018, 933, 'e<tspan baseline-shift="sub" font-size="11">g</tspan>', 17, '#111', 'start', 'eg-label');
})();
</script>
</body></html>
